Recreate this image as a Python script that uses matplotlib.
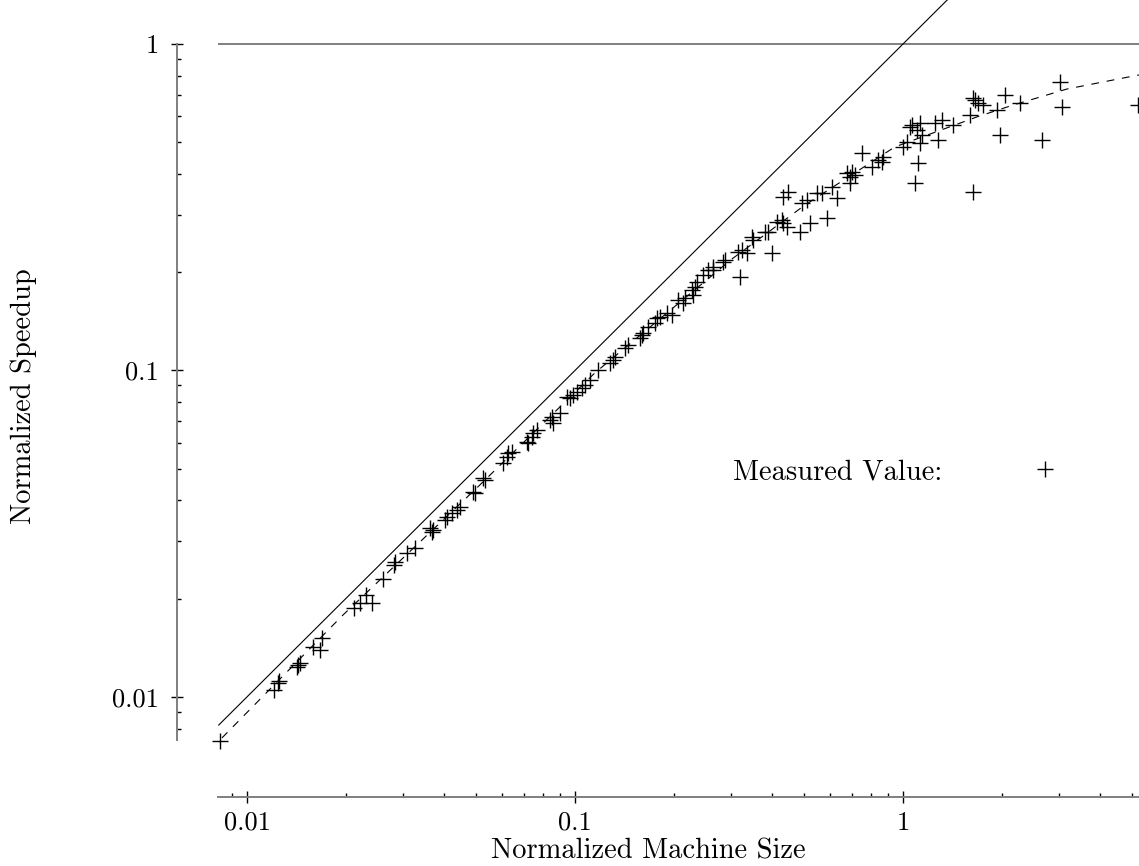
import matplotlib
matplotlib.use("Agg")
import matplotlib.pyplot as plt
from matplotlib.ticker import NullFormatter, LogLocator

plt.rcParams['font.family'] = 'serif'
plt.rcParams['font.serif'] = ['cmr10', 'DejaVu Serif']
plt.rcParams['mathtext.fontset'] = 'cm'
plt.rcParams['axes.unicode_minus'] = False
plt.rcParams['axes.formatter.use_mathtext'] = True

# measured speedup points (normalized machine size, normalized speedup)
meas_x = [0.00828, 0.01208, 0.01244, 0.01253, 0.01429, 0.0142, 0.01452, 0.0159, 0.0167, 0.01694,
          0.0212, 0.0221, 0.02306, 0.02404, 0.026, 0.02806, 0.02826, 0.03076, 0.0325, 0.03614,
          0.03664, 0.0369, 0.04017, 0.04074, 0.04217, 0.04365, 0.0446, 0.04887, 0.04955, 0.05248,
          0.0532, 0.06026, 0.06209, 0.06252, 0.06427, 0.07145, 0.07194, 0.07396, 0.07447, 0.07656,
          0.08395, 0.08511, 0.0857, 0.08995, 0.09462, 0.09661, 0.09862, 0.1014, 0.105, 0.1072,
          0.1111, 0.1175, 0.1279, 0.1306, 0.1324, 0.142, 0.1451, 0.1578, 0.1601, 0.1611,
          0.1669, 0.1754, 0.1778, 0.1816, 0.1907, 0.1977, 0.2061, 0.2135, 0.2164, 0.2275,
          0.2323, 0.2355, 0.229, 0.2456, 0.2543, 0.2635, 0.2635, 0.2827, 0.2866, 0.3185,
          0.314, 0.323, 0.3345, 0.3465, 0.3489, 0.3798, 0.3876, 0.399, 0.4129, 0.4277,
          0.4306, 0.443, 0.4853, 0.5205, 0.5864, 0.4306, 0.446, 0.4921, 0.5096, 0.5468,
          0.5663, 0.6074, 0.6292, 0.675, 0.6893, 0.6991, 0.714, 0.6893, 0.7499, 0.8043,
          0.8389, 0.863, 0.869, 1.0, 1.0285, 1.065, 1.103, 1.143, 1.127, 1.127,
          1.252, 1.279, 1.111, 1.088, 1.05, 1.315, 1.42, 1.635, 1.601, 1.658,
          1.693, 1.635, 1.753, 1.934, 2.046, 1.975, 2.274, 2.653, 3.01, 3.053,
          5.206]
meas_y = [0.00733, 0.0105, 0.01104, 0.0112, 0.01253, 0.01236, 0.0127, 0.01422, 0.01393, 0.01516,
          0.01874, 0.0194, 0.0205, 0.0194, 0.02297, 0.02537, 0.0259, 0.0276, 0.02858, 0.03296,
          0.032, 0.03246, 0.03483, 0.03559, 0.03664, 0.0374, 0.0382, 0.04246, 0.04217, 0.04688,
          0.04624, 0.05212, 0.0543, 0.05585, 0.05623, 0.0604, 0.05998, 0.06252, 0.06442, 0.06577,
          0.07047, 0.0721, 0.06902, 0.07413, 0.08299, 0.08241, 0.08414, 0.0859, 0.0883, 0.0903,
          0.0935, 0.1004, 0.1054, 0.1077, 0.11, 0.1172, 0.1198, 0.1258, 0.1285, 0.1303,
          0.1359, 0.1397, 0.1449, 0.1459, 0.15, 0.1479, 0.1644, 0.161, 0.1667, 0.1765,
          0.1803, 0.1866, 0.1703, 0.1961, 0.2032, 0.2032, 0.2075, 0.2149, 0.2181, 0.1933,
          0.2307, 0.2339, 0.229, 0.2564, 0.2512, 0.2655, 0.2655, 0.229, 0.2851, 0.289,
          0.2831, 0.2751, 0.2655, 0.2831, 0.2931, 0.34, 0.3522, 0.326, 0.3327, 0.3497,
          0.3497, 0.3648, 0.3376, 0.4027, 0.3915, 0.4055, 0.3969, 0.3752, 0.4636, 0.4201,
          0.4413, 0.4351, 0.4508, 0.4837, 0.501, 0.5649, 0.5452, 0.5264, 0.5728, 0.4973,
          0.5728, 0.5081, 0.432, 0.3752, 0.5569, 0.585, 0.5649, 0.3522, 0.606, 0.6737,
          0.6596, 0.6833, 0.6504, 0.6279, 0.6979, 0.5264, 0.6596, 0.5081, 0.7647, 0.6412,
          0.6504]

# fitted model curve (dashed)
fit_x = [0.00839, 0.0196, 0.05, 0.115, 0.3, 0.5, 0.945, 1.681, 2.165, 3.162, 5.243]
fit_y = [0.00749, 0.0178, 0.0435, 0.0983, 0.219, 0.32, 0.484, 0.598, 0.650, 0.728, 0.804]

# ideal linear speedup
ideal_x = [0.0082, 2.0]
ideal_y = [0.0082, 2.0]

x_ticks = [0.01, 0.1, 1]
x_tick_labels = ['0.01', '0.1', '1']
y_ticks = [0.01, 0.1, 1]
y_tick_labels = ['0.01', '0.1', '1']

fig = plt.figure(figsize=(11.39, 8.66), dpi=100)
ax = fig.add_axes([218 / 1139, 126 / 866, 921 / 1139, 740 / 866])
ax.set_xscale('log')
ax.set_yscale('log')
ax.set_xlim(0.00816, 5.243)
ax.set_ylim(0.00738, 1.364)

grey = '#7f7f7f'
ax.axhline(1, color=grey, lw=1.4)
ax.plot(ideal_x, ideal_y, color='k', lw=0.8)
ax.plot(fit_x, fit_y, color='k', lw=0.8, dashes=(7, 7))
pts, = ax.plot(meas_x, meas_y, '+', color='k', ms=11.5, mew=1.0, linestyle='none',
               clip_on=False)

# spines detached from the data area
for side in ['top', 'right']:
    ax.spines[side].set_visible(False)
ax.spines['left'].set_position(('outward', 29.5))
ax.spines['bottom'].set_position(('outward', 41))
ax.spines['left'].set_bounds(0.00738, 1)
for side in ['left', 'bottom']:
    ax.spines[side].set_color(grey)
    ax.spines[side].set_linewidth(1.4)

ax.set_xticks(x_ticks, labels=x_tick_labels)
ax.set_yticks(y_ticks, labels=y_tick_labels)
ax.xaxis.set_minor_locator(LogLocator(base=10, subs=range(2, 10)))
ax.yaxis.set_minor_locator(LogLocator(base=10, subs=range(2, 10)))
ax.xaxis.set_minor_formatter(NullFormatter())
ax.yaxis.set_minor_formatter(NullFormatter())
ax.tick_params(which='major', direction='inout', length=8, width=1.0, color='k',
               labelsize=19)
ax.tick_params(axis='y', which='major', pad=9)
ax.tick_params(axis='x', which='major', pad=6)
ax.tick_params(which='minor', direction='in', length=3, width=1.0, color='k')

ax.set_xlabel('Normalized Machine Size', fontsize=20.5)
ax.set_ylabel('Normalized Speedup', fontsize=20.5)
ax.xaxis.set_label_coords(0.467, -0.132)
ax.yaxis.set_label_coords(-0.1965, 0.465)

ax.legend(handles=[pts], labels=['Measured Value:'], markerfirst=False, frameon=False,
          fontsize=20.5, handlelength=2, handletextpad=2.6, loc='center left',
          bbox_to_anchor=(733 / 1139, 1 - 472 / 866), bbox_transform=fig.transFigure,
          borderpad=0, borderaxespad=0)

fig.savefig('out.png', dpi=100)
